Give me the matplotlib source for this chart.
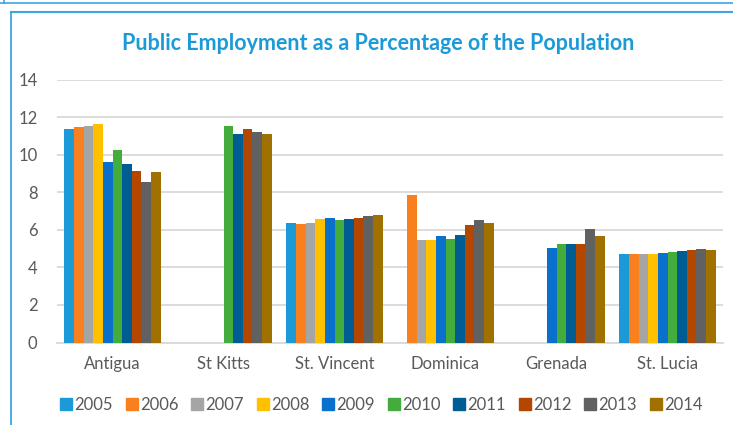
import numpy as np
import matplotlib.pyplot as plt
from matplotlib.lines import Line2D

countries = ["Antigua", "St Kitts", "St. Vincent", "Dominica", "Grenada", "St. Lucia"]
years = ["2005", "2006", "2007", "2008", "2009", "2010", "2011", "2012", "2013", "2014"]

# public employment as % of population, one list per year (None = no data)
y2005 = [11.36, None, 6.38, None, None, 4.73]
y2006 = [11.47, None, 6.33, 7.84, None, 4.69]
y2007 = [11.54, None, 6.38, 5.43, None, 4.69]
y2008 = [11.63, None, 6.56, 5.48, None, 4.73]
y2009 = [9.63, None, 6.61, 5.68, 5.03, 4.78]
y2010 = [10.23, 11.54, 6.51, 5.50, 5.24, 4.83]
y2011 = [9.49, 11.12, 6.56, 5.73, 5.24, 4.88]
y2012 = [9.15, 11.36, 6.61, 6.28, 5.24, 4.94]
y2013 = [8.57, 11.22, 6.72, 6.52, 6.05, 4.99]
y2014 = [9.10, 11.12, 6.77, 6.34, 5.65, 4.94]
series = [y2005, y2006, y2007, y2008, y2009, y2010, y2011, y2012, y2013, y2014]

colors = ["#1C9AD8", "#F8801F", "#A5A5A5", "#FFC000", "#0B70CB",
          "#43AC3C", "#005D94", "#B34700", "#616161", "#A07000"]

plt.rcParams["font.family"] = ["Lato", "DejaVu Sans"]

fig = plt.figure(figsize=(7.33, 4.25), dpi=100)
ax = fig.add_axes([57 / 733, 1 - 342.5 / 425, 666 / 733, 263 / 425])

n = len(series)
group = 0.865
w = group / n
x = np.arange(len(countries))
for i, (vals, c) in enumerate(zip(series, colors)):
    v = [np.nan if a is None else a for a in vals]
    ax.bar(x - group / 2 + w * (i + 0.5), v, width=w, color=c, zorder=3,
           label=years[i])

ax.set_xlim(-0.5, len(countries) - 0.5)
ax.set_ylim(0, 14)
ax.set_yticks(range(0, 15, 2))
ax.set_xticks(x)
ax.set_xticklabels(countries)
ax.tick_params(axis="both", length=0, colors="#595959", labelsize=12)
ax.tick_params(axis="x", pad=10)
ax.tick_params(axis="y", pad=14)
ax.grid(axis="y", color="#D9D9D9", linewidth=1.3, zorder=0)
for s in ["top", "right", "left"]:
    ax.spines[s].set_visible(False)
ax.spines["bottom"].set_color("#D9D9D9")
ax.spines["bottom"].set_linewidth(1.3)

fig.text(378 / 733, 1 - 43 / 425, "Public Employment as a Percentage of the Population",
         ha="center", va="center", color="#1C9AD8", fontsize=15.5, fontweight="bold")

handles = [Line2D([], [], marker="s", linestyle="none", markersize=8,
                  markerfacecolor=c, markeredgecolor=c) for c in colors]
fig.legend(handles, years, loc="center", bbox_to_anchor=(381 / 733, 1 - 405 / 425),
           ncol=n, frameon=False, fontsize=12, handletextpad=0.1,
           columnspacing=0.72, labelcolor="#595959", handlelength=0.8)

# framing lines of the chart box
blue = "#3DA5E0"
fig.add_artist(Line2D([11 / 733, 11 / 733], [0, 1 - 12 / 425], color=blue,
                      linewidth=1.3, transform=fig.transFigure))
fig.add_artist(Line2D([11 / 733, 1], [1 - 12 / 425, 1 - 12 / 425], color=blue,
                      linewidth=1.5, transform=fig.transFigure))
fig.add_artist(Line2D([0, 1], [1 - 3 / 425, 1 - 3 / 425], color=blue,
                      linewidth=1.2, transform=fig.transFigure))
fig.add_artist(Line2D([4 / 733, 4 / 733], [1 - 3 / 425, 1], color=blue,
                      linewidth=1.2, transform=fig.transFigure))

fig.savefig("out.png", dpi=100)
